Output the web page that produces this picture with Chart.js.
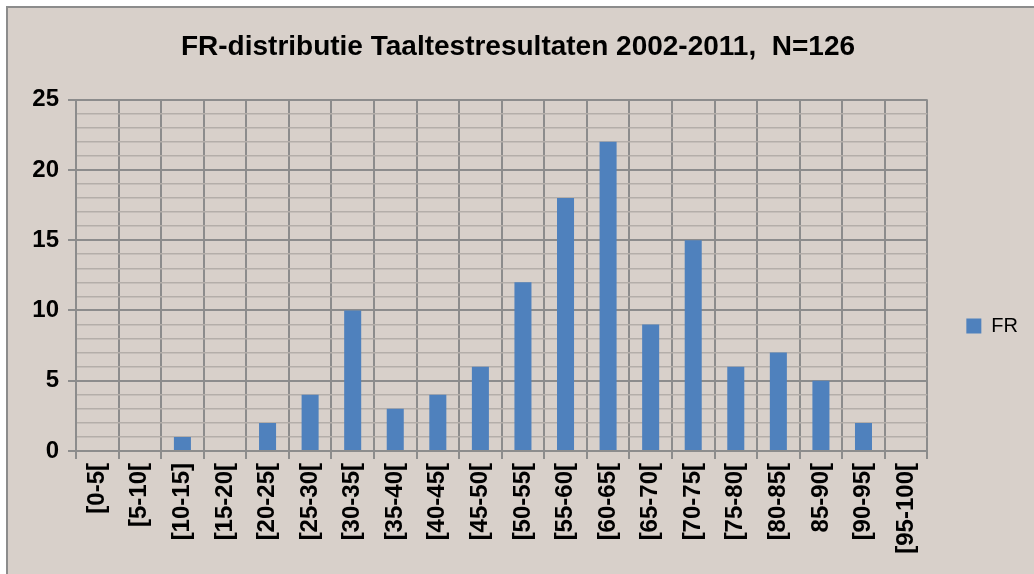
<!DOCTYPE html>
<html>
<head>
<meta charset="utf-8">
<script src="https://cdn.jsdelivr.net/npm/chart.js@4"></script>
<style>
  html, body { margin: 0; padding: 0; background: #ffffff; }
  #frame {
    position: absolute; left: 6px; top: 6px;
    width: 1026px; height: 566px;
    border-left: 2px solid #8c8c8c; border-top: 2px solid #8c8c8c;
    background: #d8d0ca;
  }
  canvas { display: block; }
</style>
</head>
<body>
<div id="frame"><canvas id="c" width="1026" height="566"></canvas></div>
<script>
const chartTitle = 'FR-distributie Taaltestresultaten 2002-2011,  N=126';
const seriesName = 'FR';
const categories = ['[0-5[', '[5-10[', '[10-15]', '[15-20[', '[20-25[', '[25-30[', '[30-35[',
  '[35-40[', '[40-45[', '[45-50[', '[50-55[', '[55-60[', '[60-65[', '[65-70[', '[70-75[',
  '[75-80[', '[80-85[', '85-90[', '[90-95[', '[95-100['];
const frValues = [0, 0, 1, 0, 2, 4, 10, 3, 4, 6, 12, 18, 22, 9, 15, 6, 7, 5, 2, 0];
const yMin = 0, yMax = 25, yMajorStep = 5, yMinorStep = 1;

Chart.defaults.font.family = '"Liberation Sans", Arial, sans-serif';
Chart.defaults.color = '#000000';

const majorColor = '#8c8c8c';
const minorColor = '#b4aea9';

new Chart(document.getElementById('c'), {
  type: 'bar',
  data: {
    labels: categories,
    datasets: [{
      label: seriesName,
      data: frValues,
      backgroundColor: '#4f81bd',
      borderWidth: 0,
      barPercentage: 0.4,
      categoryPercentage: 1.0
    }]
  },
  options: {
    responsive: false,
    animation: false,
    devicePixelRatio: 1,
    layout: { padding: { left: 0, right: 6, top: 0, bottom: 0 } },
    plugins: {
      title: {
        display: true,
        text: chartTitle,
        font: { size: 28, weight: 'bold' },
        color: '#000000',
        padding: { top: 22, bottom: 36 }
      },
      legend: {
        display: true,
        position: 'right',
        align: 'center',
        title: { display: true, text: ' ', font: { size: 20 }, padding: { top: 23, bottom: 23 } },
        labels: {
          boxWidth: 15, boxHeight: 15, padding: 10,
          font: { size: 20 }, color: '#000000'
        }
      },
      tooltip: { enabled: false }
    },
    scales: {
      x: {
        offset: true,
        grid: { display: true, offset: true, color: majorColor, lineWidth: 2, tickLength: 8, tickColor: majorColor },
        border: { display: true, color: majorColor, width: 2 },
        ticks: {
          autoSkip: false, minRotation: 90, maxRotation: 90, padding: 4,
          font: { size: 24, weight: 'bold' }, color: '#000000'
        },
        afterFit(scale) { scale.height = 123; }
      },
      y: {
        min: yMin, max: yMax,
        grid: {
          color: (ctx) => (ctx.tick && ctx.tick.value % yMajorStep === 0) ? majorColor : minorColor,
          lineWidth: (ctx) => (ctx.tick && ctx.tick.value % yMajorStep === 0) ? 2 : 1.5,
          tickColor: (ctx) => (ctx.tick && ctx.tick.value % yMajorStep === 0) ? majorColor : 'rgba(0,0,0,0)',
          tickLength: 8
        },
        border: { display: true, color: majorColor, width: 2 },
        ticks: {
          stepSize: yMinorStep, autoSkip: false, padding: 9,
          font: { size: 24, weight: 'bold' }, color: '#000000',
          callback: (v) => (v % yMajorStep === 0 ? String(v) : '')
        },
        afterFit(scale) { scale.width = 68; }
      },
      gap: {
        type: 'linear', position: 'right', display: true,
        grid: { display: false, drawTicks: false },
        border: { display: false },
        ticks: { display: false },
        afterFit(scale) { scale.width = 29; }
      }
    }
  }
});
</script>
</body>
</html>
